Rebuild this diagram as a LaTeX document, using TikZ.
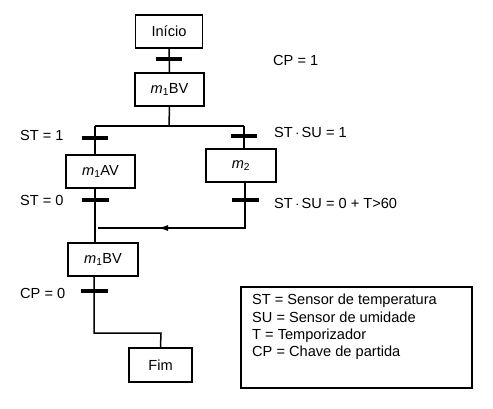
\documentclass[tikz,border=0pt]{standalone}
\usepackage{fontspec}
\setmainfont{Liberation Sans}
\usetikzlibrary{arrows.meta,calc}
\begin{document}
\begin{tikzpicture}[x=1pt,y=-1pt,
  stepbox/.style={draw,line width=1.5pt,rectangle,inner sep=0pt,font=\fontsize{14.6}{17}\selectfont},
  trbar/.style={fill=black,rectangle,inner sep=0pt,minimum width=26pt,minimum height=4pt},
  lbl/.style={anchor=west,inner sep=0pt,font=\fontsize{14.6}{17}\selectfont},
  wire/.style={line width=1.5pt}]
\useasboundingbox (0,0) rectangle (493,408);
% steps
\node[stepbox,minimum width=67pt,minimum height=33pt] (ini) at (169,31.5) {Início};
\node[stepbox,minimum width=69pt,minimum height=33pt] (bv1) at (169.5,89.5) {\textit{m}\textsubscript{1}BV};
\node[stepbox,minimum width=69pt,minimum height=33pt] (av) at (100.5,171.5) {\textit{m}\textsubscript{1}AV};
\node[stepbox,minimum width=70pt,minimum height=33pt] (m2) at (241,165.5) {\textit{m}\textsubscript{2}};
\node[stepbox,minimum width=70pt,minimum height=33pt] (bv2) at (103,259.5) {\textit{m}\textsubscript{1}BV};
\node[stepbox,minimum width=63pt,minimum height=34pt] (fim) at (160.5,365) {Fim};
% transitions
\node[trbar] (t0) at (169,59) {};
\node[trbar] (t1) at (95,138) {};
\node[trbar] (t2) at (244,136) {};
\node[trbar,minimum width=27pt] (t3) at (95,200) {};
\node[trbar,minimum width=27pt] (t4) at (245,200) {};
\node[trbar,minimum width=27pt] (t5) at (94,291) {};
% coordinates
\coordinate (fork) at (169,126);
\coordinate (join) at (98,228);
\coordinate (tip) at (158,228);
\coordinate (bend) at (161,333);
% connectors
\draw[wire] (ini) -- (bv1);
\draw[wire] (bv1.south) -- (fork);
\draw[wire] (t1 |- fork) -- (t2 |- fork);
\draw[wire] (t1 |- fork) -- (t1 |- av.north);
\draw[wire] (t2 |- fork) -- (t2 |- m2.north);
\draw[wire] (t3 |- av.south) -- (t3 |- bv2.north);
\draw[wire] (t4 |- m2.south) -- (t4 |- join) -- (join);
\draw[wire,-{Latex[length=10pt,width=6pt]}] (t4 |- join) -- (tip);
\draw[wire] (t5 |- bv2.south) -- (t5 |- bend) -- (bend) -- (fim.north);
% labels
\node[lbl] (l0) at (273,60) {CP = 1};
\node[lbl] (l1) at (20,135) {ST = 1};
\node[lbl] (l2) at (274,132) {ST\,$\cdot$\,SU = 1};
\node[lbl] (l3) at (20,200) {ST = 0};
\node[lbl] (l4) at (274,203) {ST\,$\cdot$\,SU = 0 + T>60};
\node[lbl] (l5) at (20,293) {CP = 0};
% legend
\draw[wire] (241,287) rectangle (472,388);
\node[anchor=north west,align=left,inner sep=0pt,font=\fontsize{14.6}{17.4}\selectfont] (leg) at (252,294)
  {ST = Sensor de temperatura\\SU = Sensor de umidade\\T = Temporizador\\CP = Chave de partida};
\end{tikzpicture}
\end{document}
